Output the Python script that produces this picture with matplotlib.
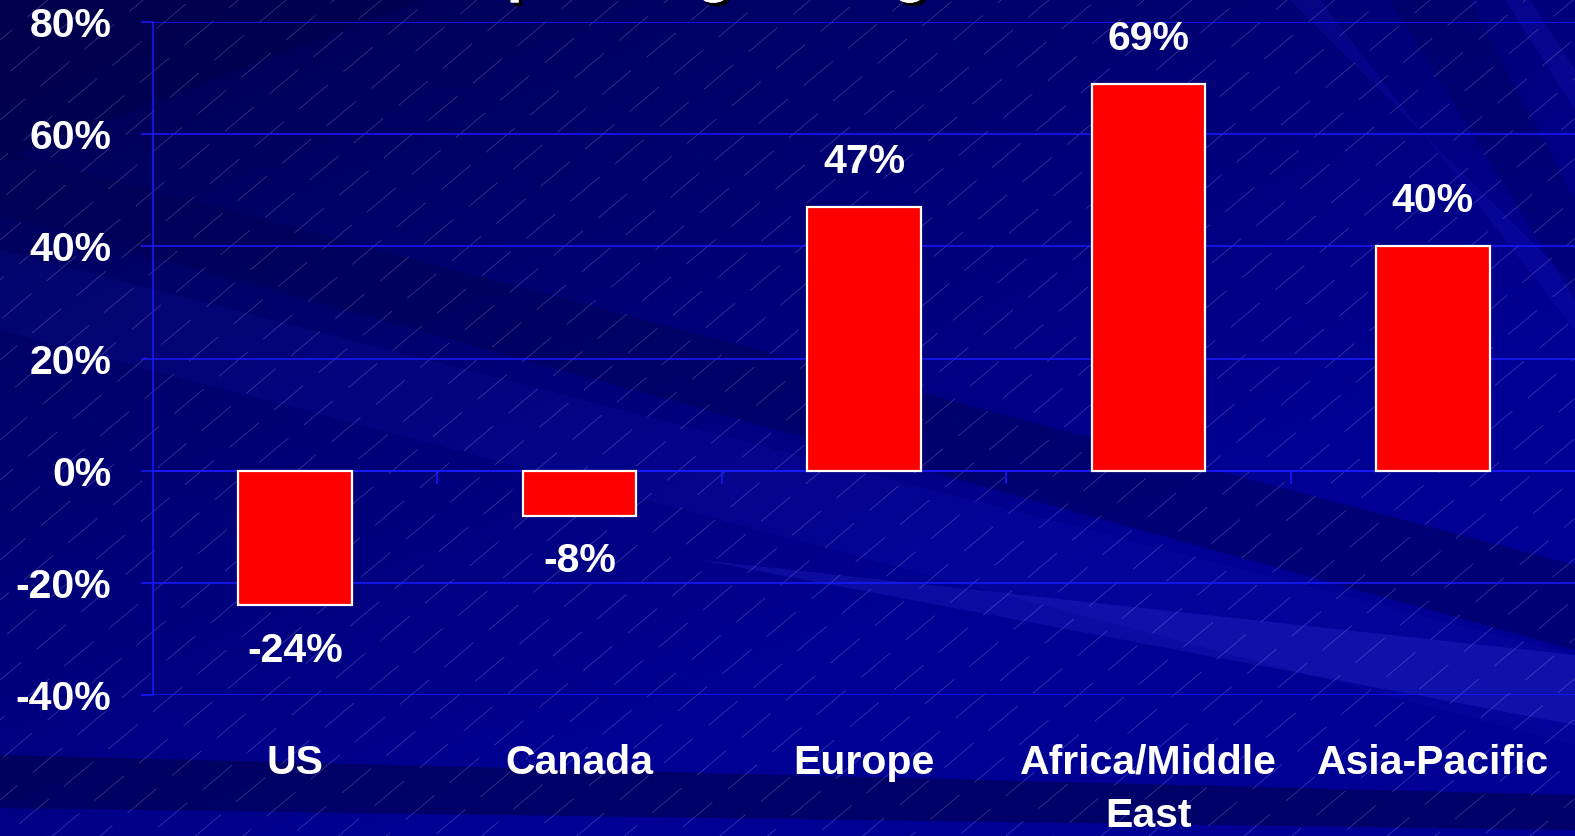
import numpy as np
import matplotlib.pyplot as plt
from matplotlib.patches import Polygon
import matplotlib.patheffects as pe

regions = ['US', 'Canada', 'Europe', 'Africa/Middle\nEast', 'Asia-Pacific']
change = [-24, -8, 47, 69, 40]          # percent change
yticks = [-40, -20, 0, 20, 40, 60, 80]
title = 'Spending Change'

W, H = 1575, 836
GRID = '#1a1aff'

plt.rcParams['font.family'] = ['Liberation Sans', 'DejaVu Sans']
plt.rcParams['font.weight'] = 'bold'

fig = plt.figure(figsize=(W / 100, H / 100), dpi=100)

# --- slide background: navy gradient, diagonal swooshes, fine hatch ---
bg = fig.add_axes([0, 0, 1, 1], zorder=0)
bg.set_xlim(0, W)
bg.set_ylim(H, 0)
bg.axis('off')
gx, gy = np.meshgrid(np.linspace(0, 1, 80), np.linspace(0, 1, 80))
blue = np.clip(80 + 45 * gx + 55 * gy, 0, 148) / 255
bg.imshow(np.dstack([np.zeros_like(blue), np.zeros_like(blue), blue]),
          extent=(0, W, H, 0), aspect='auto', interpolation='bilinear')

swooshes = [
    ([(0, 0), (420, 0), (0, 160)], '#000048', 0.45),
    ([(0, 150), (0, 215), (W, 650), (W, 565)], '#000050', 0.45),
    ([(0, 250), (0, 330), (W, 745), (W, 655)], '#3030e0', 0.10),
    ([(700, 560), (W, 655), (W, 725)], '#5050ff', 0.16),
    ([(0, 755), (0, 808), (W, 830), (W, 795)], '#000040', 0.5),
    ([(1290, 0), (1320, 0), (W, 330), (W, 285)], '#3030ff', 0.12),
    ([(1390, 0), (1470, 0), (W, 200), (W, 300)], '#000050', 0.3),
    ([(1505, 0), (1530, 0), (W, 70), (W, 110)], '#3030ff', 0.14),
]
for pts, col, a in swooshes:
    bg.add_patch(Polygon(pts, closed=True, facecolor=col, edgecolor='none', alpha=a))

slope = np.tan(np.radians(40))
for k, c in enumerate(np.arange(0, H + W * slope, 40)):
    xs = np.array([0, W])
    bg.plot(xs, c - slope * xs, color='#c8c8ff', lw=0.55, alpha=0.28,
            linestyle=((k * 29) % 80, (50, 26)))

# title runs off the top of the slide
fig.text(468 / W, 1 + 9.5 / H, title, fontsize=41.7, color='white',
         ha='left', va='baseline',
         path_effects=[pe.withSimplePatchShadow(offset=(2.5, -2.5),
                                                shadow_rgbFace='black', alpha=1),
                       pe.Normal()])

# --- bar chart ---
ax = fig.add_axes([153 / W, 1 - 695 / H, 1 - 153 / W, (695 - 22) / H], zorder=1)
ax.set_facecolor('none')
x = np.arange(len(regions))
vals = np.array(change) / 100
ax.bar(x, vals, width=0.4, color='#ff0000', edgecolor='white', linewidth=1.6, zorder=3)

ax.set_xlim(-0.5, len(regions) - 0.5)
ax.set_ylim(-0.4, 0.8)
ax.set_yticks(np.array(yticks) / 100)
ax.set_yticklabels([f'{v}%' for v in yticks])
ax.set_xticks(x)
ax.set_xticklabels(regions, linespacing=1.5)
ax.yaxis.grid(True, color=GRID, lw=1.1)
ax.set_axisbelow(True)

for side in ['top', 'right', 'bottom']:
    ax.spines[side].set_visible(False)
ax.spines['left'].set_color(GRID)
ax.spines['left'].set_linewidth(1.1)
ax.tick_params(axis='y', length=9, width=1.1, color=GRID, labelcolor='white',
               labelsize=29.5, pad=21)
ax.tick_params(axis='x', length=0, labelcolor='white', labelsize=29.5, pad=35)

# category axis sits on the zero line
zero = ax.secondary_xaxis(0.4 / 1.2)
zero.set_xticks(x[:-1] + 0.5)
zero.tick_params(length=9, width=1.1, color=GRID, labelbottom=False)
zero.spines['bottom'].set_color(GRID)
zero.spines['bottom'].set_linewidth(1.1)

for xi, v in zip(x, change):
    ax.annotate(f'{v}%', (xi, v / 100), xytext=(0, 32.5 if v > 0 else -33),
                textcoords='offset points', ha='center', va='center',
                color='white', fontsize=29.5, fontweight='bold')

fig.savefig('out.png', dpi=100)
